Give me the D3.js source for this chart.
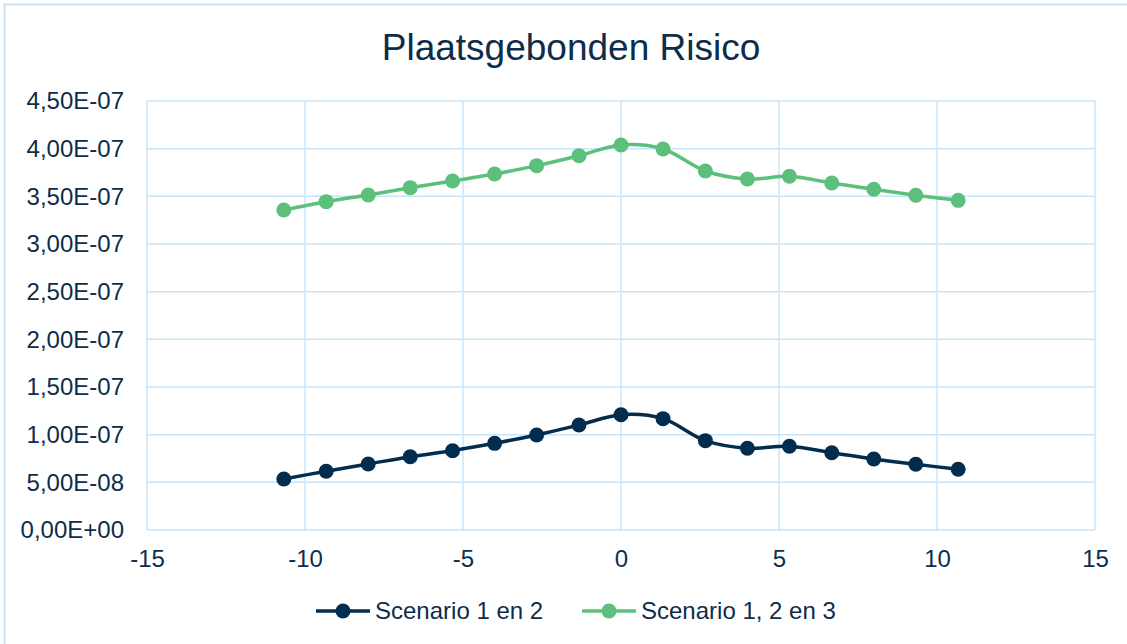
<html lang="nl">
<head>
    <meta charset="UTF-8">
    <title>Plaatsgebonden Risico</title>
    <script src="https://d3js.org/d3.v7.min.js"></script>
    <style>
        body { margin: 0; background: #fff; }
        svg { font-family: "Liberation Sans", Arial, sans-serif; }
    </style>
</head>
<body>
    <script>
        // data
        const xValues = [-10.67, -9.33, -8, -6.67, -5.33, -4, -2.67, -1.33, 0, 1.33, 2.67, 4, 5.33, 6.67, 8, 9.33, 10.67];
        const scenario12 = [5.35e-8, 6.16e-8, 6.92e-8, 7.69e-8, 8.32e-8, 9.09e-8, 9.97e-8, 1.101e-7, 1.209e-7, 1.168e-7, 9.37e-8, 8.57e-8, 8.78e-8, 8.11e-8, 7.45e-8, 6.89e-8, 6.37e-8];
        const scenario123 = [3.357e-7, 3.444e-7, 3.514e-7, 3.591e-7, 3.661e-7, 3.734e-7, 3.822e-7, 3.926e-7, 4.038e-7, 3.997e-7, 3.766e-7, 3.682e-7, 3.710e-7, 3.640e-7, 3.574e-7, 3.511e-7, 3.458e-7];
        const seriesNames = ["Scenario 1 en 2", "Scenario 1, 2 en 3"];
        const seriesColors = ["#022d4e", "#5cbf7b"];
        const xTicks = [-15, -10, -5, 0, 5, 10, 15];
        const yTicks = [0, 5e-8, 1e-7, 1.5e-7, 2e-7, 2.5e-7, 3e-7, 3.5e-7, 4e-7, 4.5e-7];

        const width = 1127, height = 644;
        const margin = { top: 101, right: 32, bottom: 115, left: 147 };
        const textColor = "#0d2d4a";
        const gridColor = "#c6e5fb";

        const svg = d3.select("body").append("svg")
            .attr("width", width)
            .attr("height", height);

        // outer chart border
        svg.append("rect")
            .attr("x", 4.5).attr("y", 4.5)
            .attr("width", width + 10).attr("height", height + 10)
            .attr("fill", "none")
            .attr("stroke", gridColor)
            .attr("stroke-width", 2);

        const x = d3.scaleLinear()
            .domain([-15, 15])
            .range([margin.left, width - margin.right]);

        const y = d3.scaleLinear()
            .domain([0, 4.5e-7])
            .range([height - margin.bottom + 1, margin.top]);

        // gridlines
        svg.append("g")
            .selectAll("line")
            .data(xTicks)
            .join("line")
            .attr("x1", d => x(d)).attr("x2", d => x(d))
            .attr("y1", y(0)).attr("y2", y(4.5e-7))
            .attr("stroke", gridColor)
            .attr("stroke-width", 1.5);

        svg.append("g")
            .selectAll("line")
            .data(yTicks)
            .join("line")
            .attr("x1", x(-15)).attr("x2", x(15))
            .attr("y1", d => y(d)).attr("y2", d => y(d))
            .attr("stroke", gridColor)
            .attr("stroke-width", 1.5);

        // axes (labels only)
        const fmtY = d => d3.format(".2e")(d).replace(".", ",").replace(/e([+-])(\d+)/, (m, s, n) => "E" + s + n.padStart(2, "0")).toUpperCase();
        const fmtX = d => String(d);

        const yAxis = svg.append("g")
            .attr("transform", `translate(${x(-15)},0)`)
            .call(d3.axisLeft(y).tickValues(yTicks).tickFormat(fmtY).tickSize(0).tickPadding(23));
        yAxis.select(".domain").remove();
        yAxis.selectAll("text")
            .attr("fill", textColor)
            .style("font-size", "24px");

        const xAxis = svg.append("g")
            .attr("transform", `translate(0,${y(0)})`)
            .call(d3.axisBottom(x).tickValues(xTicks).tickFormat(fmtX).tickSize(0).tickPadding(20));
        xAxis.select(".domain").remove();
        xAxis.selectAll("text")
            .attr("fill", textColor)
            .style("font-size", "24px");

        // series
        const series = [
            { name: seriesNames[0], color: seriesColors[0], values: scenario12 },
            { name: seriesNames[1], color: seriesColors[1], values: scenario123 }
        ];

        const line = d3.line()
            .x((d, i) => x(xValues[i]))
            .y(d => y(d))
            .curve(d3.curveCatmullRom.alpha(0.5));

        series.forEach(s => {
            svg.append("path")
                .datum(s.values)
                .attr("fill", "none")
                .attr("stroke", s.color)
                .attr("stroke-width", 3.5)
                .attr("d", line);

            svg.append("g")
                .selectAll("circle")
                .data(s.values)
                .join("circle")
                .attr("cx", (d, i) => x(xValues[i]))
                .attr("cy", d => y(d))
                .attr("r", 7.5)
                .attr("fill", s.color);
        });

        // title
        svg.append("text")
            .attr("x", 571)
            .attr("y", 60)
            .attr("text-anchor", "middle")
            .attr("fill", textColor)
            .style("font-size", "37px")
            .text("Plaatsgebonden Risico");

        // legend
        const legendX = [316, 582];
        const legend = svg.append("g")
            .selectAll("g")
            .data(series)
            .join("g")
            .attr("transform", (d, i) => `translate(${legendX[i]},611)`);

        legend.append("line")
            .attr("x1", 0).attr("x2", 54)
            .attr("stroke", d => d.color)
            .attr("stroke-width", 3.5);

        legend.append("circle")
            .attr("cx", 27)
            .attr("r", 7.5)
            .attr("fill", d => d.color);

        legend.append("text")
            .attr("x", 59)
            .attr("dy", "0.35em")
            .attr("fill", textColor)
            .style("font-size", "24px")
            .text(d => d.name);
    </script>
</body>
</html>
